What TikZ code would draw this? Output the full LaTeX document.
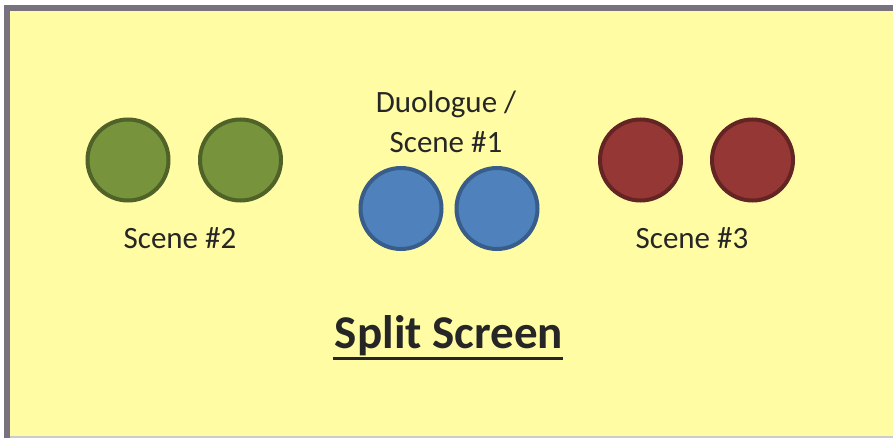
\documentclass[tikz,border=0pt]{standalone}
\usepackage{fontspec}
\setmainfont{Carlito}
\usetikzlibrary{positioning}
\definecolor{bgyellow}{RGB}{255,252,163}
\definecolor{framegray}{RGB}{120,114,126}
\definecolor{textgray}{RGB}{38,38,38}
\definecolor{sgreen}{RGB}{119,147,60}
\definecolor{sgreenline}{RGB}{79,98,40}
\definecolor{sblue}{RGB}{79,129,189}
\definecolor{sblueline}{RGB}{56,93,138}
\definecolor{sred}{RGB}{149,55,53}
\definecolor{sredline}{RGB}{99,37,35}

\begin{document}
\begin{tikzpicture}[x=1pt,y=-1pt,
    actor/.style={circle,draw=#1line,fill=#1,line width=4pt,minimum size=81pt,inner sep=0pt},
    caption/.style={text=textgray,font=\fontsize{31}{40}\selectfont,align=center,inner sep=0pt}]
  \useasboundingbox (0,0) rectangle (893,438);
  % frame
  \fill[white] (0,0) rectangle (893,438);
  \fill[bgyellow] (7,8) rectangle (893,436);
  \draw[framegray,line width=6pt] (7,438) -- (7,8) -- (893,8);
  \draw[black!20,line width=2pt] (10,437) -- (893,437);
  % the six people
  \foreach \n/\x/\y/\c in {g1/128/160/sgreen,g2/240.5/160/sgreen,
                          b1/401/208.5/sblue,b2/497/208.5/sblue,
                          r1/640.5/160/sred,r2/752.5/160/sred}{
    \node[actor=\c] (\n) at (\x,\y) {};
  }
  \node[caption] (duo) at (446,122) {Duologue /\\Scene \#1};
  \node[caption] (scene2) at (180,238) {Scene \#2};
  \node[caption] (scene3) at (692,238) {Scene \#3};
  \node[text=textgray,font=\fontsize{47}{50}\selectfont\bfseries,inner sep=0pt,anchor=base] (title) at (449,348) {Split Screen};
  \draw[textgray,line width=3pt] ([xshift=-2pt,yshift=-10.5pt]title.base west) -- ([yshift=-10.5pt]title.base east);
\end{tikzpicture}
\end{document}
